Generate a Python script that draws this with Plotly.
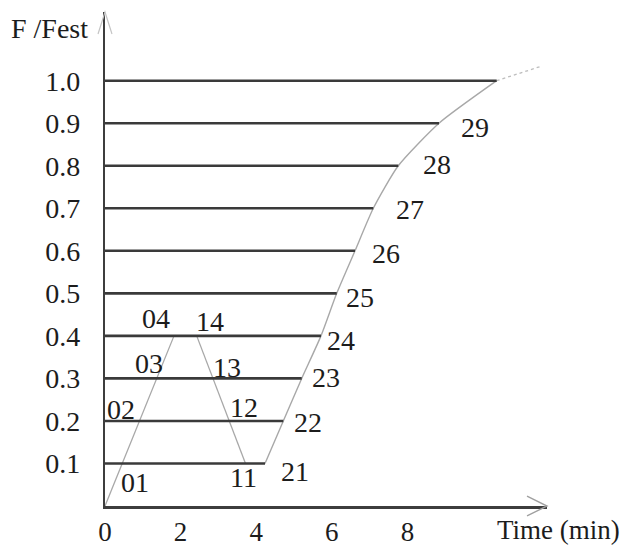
import plotly.graph_objects as go

# ---------------- data ----------------
levels = [0.1, 0.2, 0.3, 0.4, 0.5, 0.6, 0.7, 0.8, 0.9, 1.0]          # F/Fest levels
curve2_time = [4.233, 4.717, 5.204, 5.714, 6.130, 6.614, 7.098, 7.759, 8.836, 10.362]  # series 2x end times
curve2_ext_time = [10.362, 11.508]
curve2_ext_level = [1.0, 1.033]
series0_time = [0.0, 1.825]
series0_level = [0.0, 0.4]
series1_time = [2.426, 3.717]
series1_level = [0.4, 0.1]
x_ticks = [0, 2, 4, 6, 8]
y_ticks = [0.1, 0.2, 0.3, 0.4, 0.5, 0.6, 0.7, 0.8, 0.9, 1.0]
y_tick_text = ["0.1", "0.2", "0.3", "0.4", "0.5", "0.6", "0.7", "0.8", "0.9", "1.0"]
point_labels = ["01", "02", "03", "04", "14", "13", "12", "11",
                "21", "22", "23", "24", "25", "26", "27", "28", "29"]

# label placements (layout, not data)
label_pos = [(0.794, 0.055), (0.423, 0.226), (1.159, 0.336), (1.336, 0.442),
             (2.778, 0.434), (3.220, 0.326), (3.677, 0.232), (3.677, 0.067),
             (5.026, 0.082), (5.378, 0.196), (5.847, 0.302), (6.243, 0.388),
             (6.746, 0.490), (7.434, 0.593), (8.069, 0.698), (8.783, 0.804),
             (9.788, 0.890)]

FONT = "Liberation Serif"
TXT = "#1c1c1c"
GRAY = "#a8a8a8"
DARK = "#3a3a3a"

fig = go.Figure()

# light gray slanted lines
fig.add_trace(go.Scatter(x=series0_time, y=series0_level, mode="lines",
                         line=dict(color=GRAY, width=1.3), hoverinfo="skip"))
fig.add_trace(go.Scatter(x=series1_time, y=series1_level, mode="lines",
                         line=dict(color=GRAY, width=1.3), hoverinfo="skip"))
fig.add_trace(go.Scatter(x=curve2_time, y=levels, mode="lines",
                         line=dict(color=GRAY, width=1.4, shape="spline", smoothing=0.6),
                         hoverinfo="skip"))
fig.add_trace(go.Scatter(x=curve2_ext_time, y=curve2_ext_level, mode="lines",
                         line=dict(color="#bdbdbd", width=1.3, dash="dot"), hoverinfo="skip"))

# horizontal level lines from the axis to the curve
hx, hy = [], []
for lv, xe in zip(levels, curve2_time):
    hx += [0, xe, None]
    hy += [lv, lv, None]
fig.add_trace(go.Scatter(x=hx, y=hy, mode="lines",
                         line=dict(color=DARK, width=2.6), hoverinfo="skip"))

for txt, (lx, ly) in zip(point_labels, label_pos):
    fig.add_annotation(x=lx, y=ly, text=txt, showarrow=False,
                       font=dict(family=FONT, size=28, color=TXT),
                       xanchor="center", yanchor="middle")

# axis titles
fig.add_annotation(xref="paper", yref="paper", x=-0.125, y=0.966, text="F /Fest",
                   showarrow=False, font=dict(family=FONT, size=28, color=TXT),
                   xanchor="center", yanchor="middle")
fig.add_annotation(xref="paper", yref="paper", x=1.1697, y=-0.048, text="Time (min)",
                   showarrow=False, font=dict(family=FONT, size=27, color=TXT),
                   xanchor="right", yanchor="middle")

# arrow heads (open chevrons)
fig.add_shape(type="path", xref="paper", yref="paper",
              path="M -0.0158,0.9555 L 0,1 L 0.0158,0.9555",
              line=dict(color="#c4c4c4", width=1.2))
fig.add_shape(type="path", xref="paper", yref="paper",
              path="M 0.9548,0.0202 L 1,0 L 0.9548,-0.0202",
              line=dict(color="#a0a0a0", width=1.4))

fig.update_layout(
    width=623, height=553,
    margin=dict(l=105, r=76, t=12, b=47, autoexpand=False),
    paper_bgcolor="white", plot_bgcolor="white",
    showlegend=False,
    xaxis=dict(range=[0, 11.693], showgrid=False, zeroline=False, automargin=False,
               showline=True, linecolor="#3d3d3d", linewidth=2.6,
               tickvals=x_ticks, ticks="", ticklabelstandoff=0,
               tickfont=dict(family=FONT, size=27, color=TXT), fixedrange=True),
    yaxis=dict(range=[0, 1.1615], showgrid=False, zeroline=False, automargin=False,
               showline=True, linecolor="#3d3d3d", linewidth=2.4,
               tickvals=y_ticks, ticktext=y_tick_text, ticks="",
               ticklabelstandoff=17,
               tickfont=dict(family=FONT, size=28, color=TXT), fixedrange=True),
)

fig.write_html("out.html", config={"displayModeBar": False},
               post_script="document.body.style.margin='0';")
